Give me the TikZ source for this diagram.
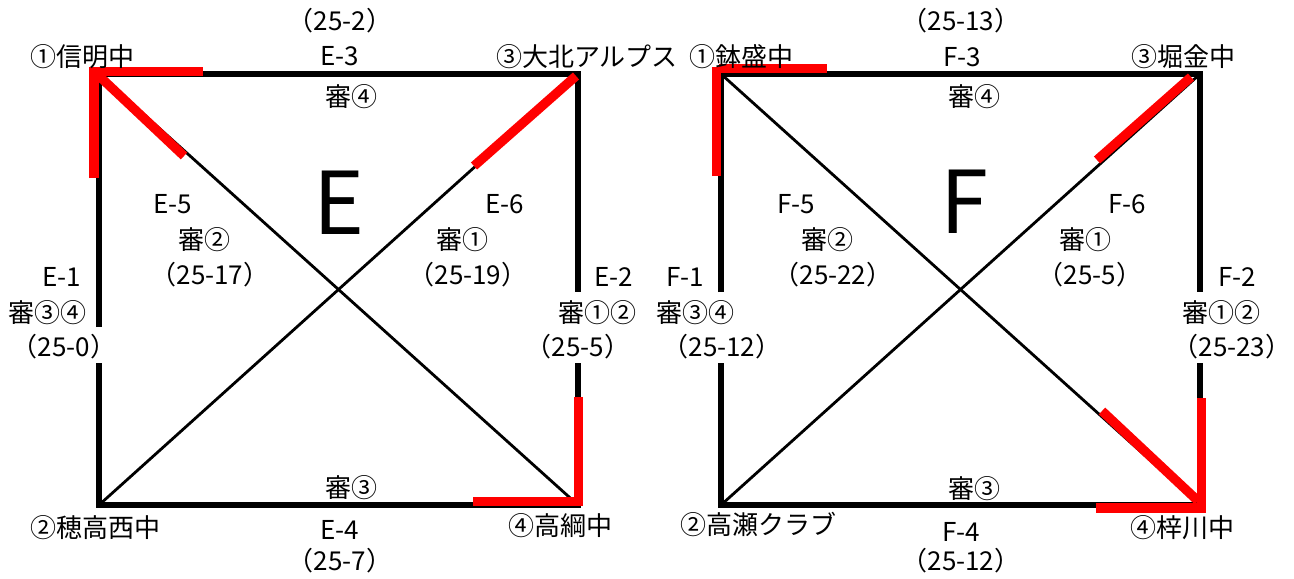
\documentclass[tikz,border=0pt]{standalone}
\usepackage{fontspec}
\setmainfont{Noto Sans CJK JP}
\begin{document}
\begin{tikzpicture}[x=0.75pt,y=-0.75pt,
  frame/.style={line width=4.1pt, line join=miter, black},
  diag/.style={line width=2.1pt, black},
  hl/.style={line width=7pt, red, line join=miter},
  lbl/.style={inner sep=0pt, font=\fontsize{19.5}{21}\selectfont},
  bigletter/.style={inner sep=0pt, anchor=base, font=\fontsize{65}{65}\selectfont}]
\useasboundingbox (0,0) rectangle (1294,578);
\fill[white] (0,0) rectangle (1294,578);

% ---------------- Group E ----------------
\coordinate (eTL) at (99,74);
\coordinate (eTR) at (578,74);
\coordinate (eBL) at (99,505);
\coordinate (eBR) at (578,505);
\coordinate (eLa) at (99,327);
\coordinate (eLb) at (99,363);
\coordinate (eRa) at (578,292);
\coordinate (eRb) at (578,363);
\draw[frame] (eLa) -- (eTL) -- (eTR) -- (eRa);
\draw[frame] (eLb) -- (eBL) -- (eBR) -- (eRb);
\draw[diag] (eTL) -- (eBR);
\draw[diag] (eBL) -- (eTR);
% highlights
\draw[hl] (94,178) -- (94,71.3) -- (203,71.3);
\draw[hl] (97,74) -- (184,156);
\draw[hl] (576,76) -- (474,166);
\draw[hl] (578.5,397) -- (578.5,501.5) -- (473,501.5);

\node[lbl] (e32) at (340,21) {（25-2）};
\node[lbl] (e3) at (340,56) {E-3};
\node[lbl] (e3r) at (351,97) {審④};
\node[lbl] (ec1) at (82,57) {①信明中};
\node[lbl] (ec3) at (587,57) {③大北アルプス};
\node[bigletter] (eE) at (339,234) {E};
\node[lbl] (e5) at (173,204) {E-5};
\node[lbl] (e5r) at (204,240) {審②};
\node[lbl] (e5s) at (210,275) {（25-17）};
\node[lbl] (e6) at (505,204) {E-6};
\node[lbl] (e6r) at (462,240) {審①};
\node[lbl] (e6s) at (468,275) {（25-19）};
\node[lbl] (e1) at (62,277) {E-1};
\node[lbl] (e1r) at (47,313) {審③④};
\node[lbl] (e1s) at (64,347) {（25-0）};
\node[lbl] (e2) at (614,277) {E-2};
\node[lbl] (e2r) at (597,313) {審①②};
\node[lbl] (e2s) at (578,347) {（25-5）};
\node[lbl] (e4r) at (351,488) {審③};
\node[lbl] (ec2) at (95,528) {②穂高西中};
\node[lbl] (e4) at (340,530) {E-4};
\node[lbl] (e4s) at (340,561) {（25-7）};
\node[lbl] (ec4) at (560,526) {④高綱中};

% ---------------- Group F ----------------
\coordinate (fTL) at (721,74);
\coordinate (fTR) at (1200,74);
\coordinate (fBL) at (721,505);
\coordinate (fBR) at (1200,505);
\coordinate (fLa) at (721,292);
\coordinate (fLb) at (721,363);
\coordinate (fRa) at (1200,292);
\coordinate (fRb) at (1200,363);
\draw[frame] (fLa) -- (fTL) -- (fTR) -- (fRa);
\draw[frame] (fLb) -- (fBL) -- (fBR) -- (fRb);
\draw[diag] (fTL) -- (fBR);
\draw[diag] (fBL) -- (fTR);
% highlights
\draw[hl] (716.5,176) -- (716.5,67);
\draw[hl] (719,68.5) -- (827,68.5);
\draw[hl] (1191,77) -- (1097,160);
\draw[hl] (1201.5,398) -- (1201.5,508) -- (1096,508);
\draw[hl] (1102,411) -- (1198,501);

\node[lbl] (f32) at (961,21) {（25-13）};
\node[lbl] (f3) at (962,57) {F-3};
\node[lbl] (f3r) at (974,97) {審④};
\node[lbl] (fc1) at (741,57) {①鉢盛中};
\node[lbl] (fc3) at (1183,57) {③堀金中};
\node[bigletter] (fF) at (964,233) {F};
\node[lbl] (f5) at (796,204) {F-5};
\node[lbl] (f5r) at (827,240) {審②};
\node[lbl] (f5s) at (833,275) {（25-22）};
\node[lbl] (f6) at (1127,204) {F-6};
\node[lbl] (f6r) at (1085,240) {審①};
\node[lbl] (f6s) at (1090,275) {（25-5）};
\node[lbl] (f1) at (685,277) {F-1};
\node[lbl] (f1r) at (695,313) {審③④};
\node[lbl] (f1s) at (722,347) {（25-12）};
\node[lbl] (f2) at (1237,277) {F-2};
\node[lbl] (f2r) at (1221,313) {審①②};
\node[lbl] (f2s) at (1232,347) {（25-23）};
\node[lbl] (f4r) at (974,489) {審③};
\node[lbl] (fc2) at (758,524) {②高瀬クラブ};
\node[lbl] (f4) at (961,532) {F-4};
\node[lbl] (f4s) at (961,561) {（25-12）};
\node[lbl] (fc4) at (1182,528) {④梓川中};
\end{tikzpicture}
\end{document}
